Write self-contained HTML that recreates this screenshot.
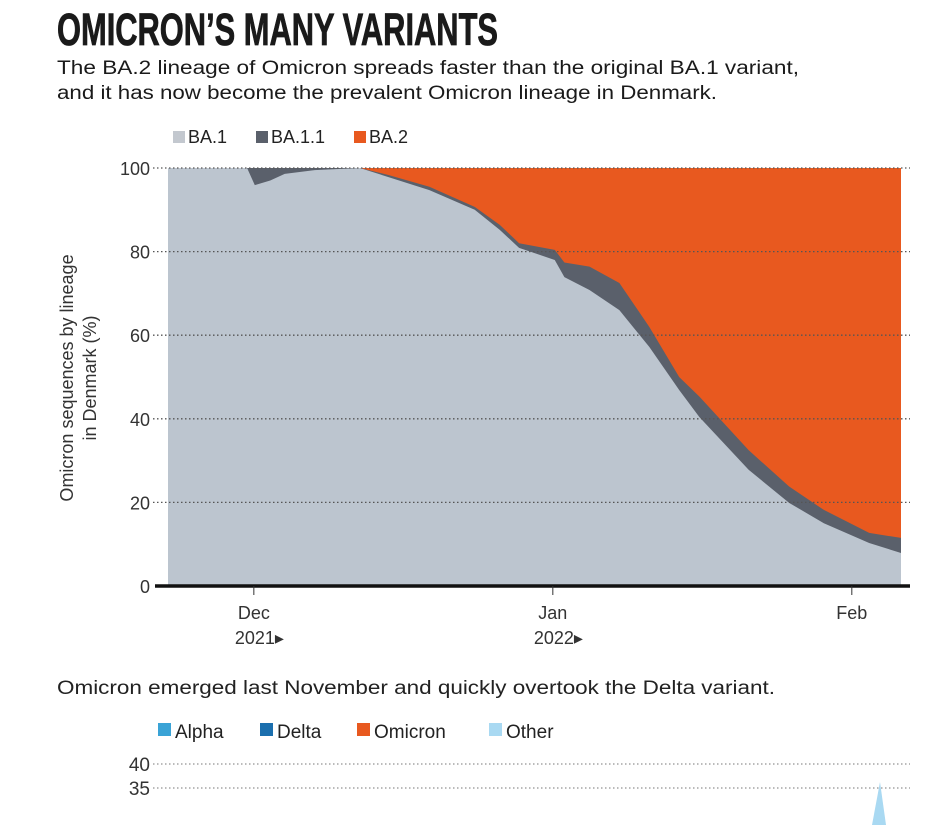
<!DOCTYPE html>
<html><head><meta charset="utf-8"><style>
body{margin:0;background:#fff;width:943px;height:825px;overflow:hidden}
svg{display:block;font-family:"Liberation Sans",sans-serif}
</style></head><body>
<svg width="943" height="825" viewBox="0 0 943 825">
<text x="57" y="45" font-family="'Liberation Sans Narrow','Liberation Sans',sans-serif" font-weight="bold" font-size="45" textLength="441" lengthAdjust="spacingAndGlyphs" fill="#1a1a1a" stroke="#1a1a1a" stroke-width="0.8">OMICRON’S MANY VARIANTS</text>
<text x="57" y="74" font-size="19" fill="#1a1a1a" textLength="742" lengthAdjust="spacingAndGlyphs">The BA.2 lineage of Omicron spreads faster than the original BA.1 variant,</text>
<text x="57" y="99" font-size="19" fill="#1a1a1a" textLength="660" lengthAdjust="spacingAndGlyphs">and it has now become the prevalent Omicron lineage in Denmark.</text>
<g>
<rect x="173" y="131" width="12" height="12" fill="#c3c8cf"/>
<text x="188" y="143" font-size="18" fill="#222">BA.1</text>
<rect x="256" y="131" width="12" height="12" fill="#5a606b"/>
<text x="271" y="143" font-size="18" fill="#222">BA.1.1</text>
<rect x="354" y="131" width="12" height="12" fill="#e8591f"/>
<text x="369" y="143" font-size="18" fill="#222">BA.2</text>
</g>
<g id="plot"></g>
<g font-size="18" fill="#333" text-anchor="middle">
<text transform="translate(73,378) rotate(-90)">Omicron sequences by lineage</text>
<text transform="translate(96,378) rotate(-90)">in Denmark (%)</text>
</g>
<text x="57" y="694" font-size="19" fill="#222" textLength="718" lengthAdjust="spacingAndGlyphs">Omicron emerged last November and quickly overtook the Delta variant.</text>
<g>
<rect x="158" y="723" width="13" height="13" fill="#3aa3d6"/>
<text x="175" y="738" font-size="19" fill="#222">Alpha</text>
<rect x="260" y="723" width="13" height="13" fill="#1b6fae"/>
<text x="277" y="738" font-size="19" fill="#222">Delta</text>
<rect x="357" y="723" width="13" height="13" fill="#e8591f"/>
<text x="374" y="738" font-size="19" fill="#222">Omicron</text>
<rect x="489" y="723" width="13" height="13" fill="#a9d9f2"/>
<text x="506" y="738" font-size="19" fill="#222">Other</text>
</g>
<g>
<text x="150" y="771" font-size="19" fill="#333" text-anchor="end">40</text>
<line x1="153" y1="764" x2="910" y2="764" stroke="#777" stroke-dasharray="1.5,2.5"/>
<text x="150" y="795" font-size="19" fill="#333" text-anchor="end">35</text>
<line x1="153" y1="788" x2="910" y2="788" stroke="#777" stroke-dasharray="1.5,2.5"/>
<polygon points="872,825 880,782 886,825" fill="#a9d9f2"/>
</g>
</svg>
<script>
// days since 1 Dec 2021
const days = [-8.9, -0.7, 0.1, 1.7, 3.2, 6.3, 11, 14, 18.2, 22.9, 25.5, 27.5, 31.2, 32.2, 34.8, 37.9, 41, 44.1, 46.2, 51.3, 55.5, 59.1, 63.8, 67.1];
const ba1 = [100, 100, 95.9, 97, 98.6, 99.5, 100, 97.8, 94.7, 90, 85.2, 80.9, 78, 73.9, 70.8, 66, 57.2, 46.9, 40.4, 27.8, 19.9, 15, 10.3, 7.9];
const ba11 = [0, 0, 4.1, 3, 1.4, 0.5, 0, 0.5, 0.8, 0.7, 1.2, 1.1, 2.4, 3.5, 5.6, 6.5, 4.8, 3.1, 4.9, 4.7, 3.9, 3.2, 2.4, 3.6];
const yTicks = [0, 20, 40, 60, 80, 100];
const xTickDays = [0, 31, 62];
const xTickLabels = ["Dec", "Jan", "Feb"];
const xTickYears = ["2021", "2022", ""];

const NS = "http://www.w3.org/2000/svg";
const X0 = 168, X1 = 901, D0 = -8.9, D1 = 67.1, Y0 = 586, Y1 = 168;
const xs = d => X0 + (d - D0) / (D1 - D0) * (X1 - X0);
const ys = v => Y0 - v / 100 * (Y0 - Y1);
const g = document.getElementById('plot');
function mk(tag, attrs) { const e = document.createElementNS(NS, tag); for (const k in attrs) e.setAttribute(k, attrs[k]); g.appendChild(e); return e; }

const bg = mk('rect', {x: xs(D0), y: ys(100), width: xs(D1) - xs(D0), height: ys(0) - ys(100), fill: '#e8591f'});



let top11 = days.map((d, i) => xs(d) + ',' + ys(ba1[i] + ba11[i]));
const a11 = mk('polygon', {points: top11.join(' ') + ' ' + xs(D1) + ',' + ys(0) + ' ' + xs(D0) + ',' + ys(0), fill: '#5a606b'});



let top1 = days.map((d, i) => xs(d) + ',' + ys(ba1[i]));
const a1 = mk('polygon', {points: top1.join(' ') + ' ' + xs(D1) + ',' + ys(0) + ' ' + xs(D0) + ',' + ys(0), fill: '#bcc5cf'});



yTicks.forEach(t => {
  if (t > 0) {
    const l = mk('line', {x1: 153, x2: 910, y1: ys(t), y2: ys(t), stroke: '#555', 'stroke-width': 1.3, 'stroke-dasharray': '1.5,2.5'});
    
    
  }
  const tx = mk('text', {x: 150, y: ys(t) + 7, 'font-size': 18, fill: '#333', 'text-anchor': 'end'});
  tx.textContent = t;
  
  
});
const ax = mk('line', {x1: 155, x2: 910, y1: Y0, y2: Y0, stroke: '#111', 'stroke-width': 3.5});



xTickDays.forEach((d, i) => {
  const tk = mk('line', {x1: xs(d), x2: xs(d), y1: Y0, y2: Y0 + 9, stroke: '#333', 'stroke-width': 1});
  
  
  const t1 = mk('text', {x: xs(d), y: 619, 'font-size': 18, fill: '#333', 'text-anchor': 'middle'});
  t1.textContent = xTickLabels[i];
  
  
  if (xTickYears[i]) {
    const t2 = mk('text', {x: xs(d) - 19, y: 644, 'font-size': 18, fill: '#333'});
    t2.textContent = xTickYears[i] + '\u25B8';
    
    
  }
});
</script>
</body></html>
